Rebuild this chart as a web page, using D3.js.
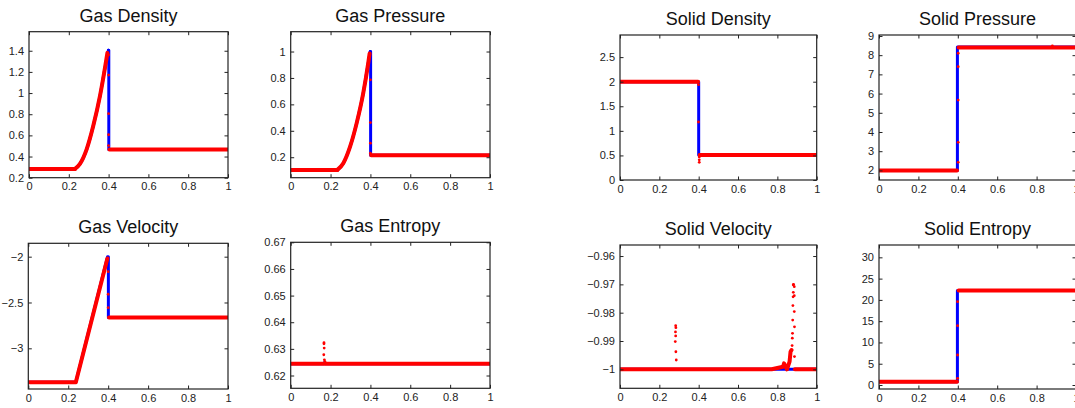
<!DOCTYPE html>
<html>
<head>
<meta charset="utf-8">
<title>Gas / Solid Riemann problem</title>
<style>
  body { margin: 0; background: #fff; }
  text { font-family: "Liberation Sans", Arial, sans-serif; }
  .tick text { font-size: 11px; fill: #222; }
  .title { font-size: 18px; fill: #111; text-anchor: middle; }
</style>
</head>
<body>
<svg width="1075" height="408"></svg>
<script src="https://cdn.jsdelivr.net/npm/d3@7"></script>
<script>
// ---- data ----
const xTicks = [0, 0.2, 0.4, 0.6, 0.8, 1];

// gas density (the compression wave part is drawn smooth)
const gasDensityExactRise = [[0.231, 0.283], [0.256, 0.33], [0.29, 0.47], [0.323, 0.69], [0.357, 0.975], [0.382, 1.24], [0.399, 1.405]];
const gasDensityExact = [[0, 0.283], [0.231, 0.283], null, [0.399, 1.405], [0.401, 1.405], [0.401, 0.466], [1, 0.466]];
const gasDensityNumRise = [[0.231, 0.283], [0.256, 0.33], [0.29, 0.47], [0.323, 0.69], [0.357, 0.975], [0.382, 1.24], [0.394, 1.38]];
const gasDensityNum = [[0, 0.283], [0.231, 0.283], null, [0.404, 0.466], [1, 0.466]];
const gasDensityDots = [[0.4, 1.36], [0.4, 1.17], [0.4, 0.805], [0.4, 0.606], [0.4, 0.504]];
const gasDensityTicks = [0.2, 0.4, 0.6, 0.8, 1, 1.2, 1.4];

// gas pressure
const gasPressureExactRise = [[0.234, 0.104], [0.264, 0.155], [0.298, 0.28], [0.331, 0.458], [0.364, 0.685], [0.389, 0.912], [0.399, 1.0]];
const gasPressureExact = [[0, 0.104], [0.234, 0.104], null, [0.399, 1.0], [0.401, 1.0], [0.401, 0.215], [1, 0.215]];
const gasPressureNumRise = [[0.234, 0.104], [0.264, 0.155], [0.298, 0.28], [0.331, 0.458], [0.364, 0.685], [0.389, 0.912], [0.396, 0.985]];
const gasPressureNum = [[0, 0.104], [0.234, 0.104], null, [0.404, 0.215], [1, 0.215]];
const gasPressureDots = [[0.4, 0.786], [0.4, 0.462], [0.4, 0.306], [0.4, 0.23]];
const gasPressureTicks = [0.2, 0.4, 0.6, 0.8, 1];

// gas velocity
const gasVelocityExact = [[0, -3.37], [0.238, -3.37], [0.397, -2.0], [0.401, -2.0], [0.401, -2.664], [1, -2.664]];
const gasVelocityNum = [[0, -3.37], [0.238, -3.37], [0.396, -2.02], null, [0.404, -2.664], [1, -2.664]];
const gasVelocityDots = [[0.4, -2.164], [0.4, -2.41], [0.4, -2.556]];
const gasVelocityTicks = [-3, -2.5, -2];

// gas entropy
const gasEntropyExact = [[0, 0.6244], [0.165, 0.6244], [0.17, 0.6249], [0.175, 0.6244], [1, 0.6244]];
const gasEntropyNum = [[0, 0.6244], [1, 0.6244]];
const gasEntropyDots = [[0.167, 0.6323], [0.167, 0.6319], [0.168, 0.6303], [0.166, 0.6278], [0.169, 0.6259], [0.172, 0.6252]];
const gasEntropyTicks = [0.62, 0.63, 0.64, 0.65, 0.66, 0.67];

// solid density
const solidDensityExact = [[0, 2.0], [0.4, 2.0], [0.4, 0.51], [1, 0.51]];
const solidDensityNum = [[0, 2.0], [0.397, 2.0], null, [0.405, 0.51], [1, 0.51]];
const solidDensityDots = [[0.399, 1.94], [0.399, 1.18], [0.403, 0.47], [0.403, 0.41], [0.403, 0.36]];
const solidDensityTicks = [0, 0.5, 1, 1.5, 2, 2.5];

// solid pressure
const solidPressureExact = [[0, 2.0], [0.398, 2.0], [0.398, 8.42], [1, 8.42]];
const solidPressureNum = [[0, 2.0], [0.396, 2.0], null, [0.404, 8.4], [1, 8.4]];
const solidPressureDots = [[0.402, 8.1], [0.402, 7.4], [0.402, 5.66], [0.402, 3.46], [0.402, 2.42], [0.88, 8.48]];
const solidPressureTicks = [2, 3, 4, 5, 6, 7, 8, 9];

// solid velocity
const solidVelocityExact = [[0, -1], [1, -1]];
const solidVelocityNum = [[0, -1], [0.771, -1], [0.829, -0.9991], [0.834, -0.9979], [0.849, -1], [0.862, -0.9973], [0.867, -0.9938], [0.872, -0.9932], null, [0.889, -1], [1, -1]];
const solidVelocityDots = [
  [0.283, -0.9846], [0.284, -0.9853], [0.282, -0.9868], [0.283, -0.9882], [0.281, -0.9902], [0.284, -0.9938], [0.286, -0.9967],
  [0.875, -0.9916], [0.876, -0.989], [0.877, -0.9873], [0.878, -0.9826], [0.879, -0.9775], [0.88, -0.9744], [0.881, -0.9728], [0.881, -0.9702], [0.882, -0.9700],
  [0.886, -0.9708], [0.886, -0.974], [0.886, -0.9796], [0.887, -0.985], [0.887, -0.9955]
];
const solidVelocityTicks = [-1, -0.99, -0.98, -0.97, -0.96];

// solid entropy
const solidEntropyExact = [[0, 0.78], [0.398, 0.78], [0.398, 22.2], [1, 22.2]];
const solidEntropyNum = [[0, 0.78], [0.396, 0.78], null, [0.404, 22.2], [1, 22.2]];
const solidEntropyDots = [[0.399, 19.57], [0.399, 13.93], [0.399, 7.05], [0.399, 1.57]];
const solidEntropyTicks = [0, 5, 10, 15, 20, 25, 30];

// ---- layout ----
const panels = [
  { title: "Gas Density",    box: [29, 228, 31.7, 177.7],   yDom: [0.2, 1.58],      yTicks: gasDensityTicks,    exact: gasDensityExact,    num: gasDensityNum,    dots: gasDensityDots, exactRise: gasDensityExactRise, numRise: gasDensityNumRise },
  { title: "Gas Pressure",   box: [290.7, 490, 31.7, 177.7], yDom: [0.045, 1.15],   yTicks: gasPressureTicks,   exact: gasPressureExact,   num: gasPressureNum,   dots: gasPressureDots, exactRise: gasPressureExactRise, numRise: gasPressureNumRise },
  { title: "Solid Density",  box: [620, 816.7, 35, 180],    yDom: [0, 2.95],        yTicks: solidDensityTicks,  exact: solidDensityExact,  num: solidDensityNum,  dots: solidDensityDots },
  { title: "Solid Pressure", box: [879, 1076, 35, 180],     yDom: [1.5, 9.05],      yTicks: solidPressureTicks, exact: solidPressureExact, num: solidPressureNum, dots: solidPressureDots },
  { title: "Gas Velocity",   box: [28.3, 228, 243.3, 389],  yDom: [-3.444, -1.854], yTicks: gasVelocityTicks,   exact: gasVelocityExact,   num: gasVelocityNum,   dots: gasVelocityDots },
  { title: "Gas Entropy",    box: [290.7, 490, 242.3, 388.3], yDom: [0.6152, 0.67], yTicks: gasEntropyTicks,    exact: gasEntropyExact,    num: gasEntropyNum,    dots: gasEntropyDots },
  { title: "Solid Velocity", box: [620, 816.7, 245, 388.3], yDom: [-1.0067, -0.9561], yTicks: solidVelocityTicks, exact: solidVelocityExact, num: solidVelocityNum, dots: solidVelocityDots },
  { title: "Solid Entropy",  box: [879, 1076, 245, 389],    yDom: [-0.94, 32.9],    yTicks: solidEntropyTicks,  exact: solidEntropyExact,  num: solidEntropyNum,  dots: solidEntropyDots }
];

const svg = d3.select("svg");
svg.append("rect").attr("width", 1075).attr("height", 408).attr("fill", "#fff");

const fmt = d3.format("~g");

panels.forEach((p, i) => {
  const [x0, x1, y0, y1] = p.box;
  const x = d3.scaleLinear().domain([0, 1]).range([x0, x1]);
  const y = d3.scaleLinear().domain(p.yDom).range([y1, y0]);
  const g = svg.append("g");

  // clip
  g.append("clipPath").attr("id", "clip" + i)
    .append("rect").attr("x", x0).attr("y", y0).attr("width", x1 - x0).attr("height", y1 - y0);

  const line = d3.line().defined(d => d).x(d => x(d[0])).y(d => y(d[1]));
  const smooth = d3.line().x(d => x(d[0])).y(d => y(d[1])).curve(d3.curveMonotoneX);
  const plot = g.append("g").attr("clip-path", `url(#clip${i})`);

  // exact solution (blue)
  const blue = path => path.attr("fill", "none")
    .attr("stroke", "#0000ff").attr("stroke-width", 3)
    .attr("stroke-linejoin", "round").attr("stroke-linecap", "round");
  blue(plot.append("path").datum(p.exact).attr("d", line));
  if (p.exactRise) blue(plot.append("path").datum(p.exactRise).attr("d", smooth));

  // numerical solution (red)
  const red = path => path.attr("fill", "none")
    .attr("stroke", "#ff0000").attr("stroke-width", 4)
    .attr("stroke-linecap", "round").attr("stroke-linejoin", "round");
  red(plot.append("path").datum(p.num).attr("d", line));
  if (p.numRise) red(plot.append("path").datum(p.numRise).attr("d", smooth));

  plot.selectAll("circle").data(p.dots).join("circle")
    .attr("cx", d => x(d[0])).attr("cy", d => y(d[1]))
    .attr("r", 1.4).attr("fill", "#ff0000");

  // axes, ticks inward on all four sides
  const bottom = g.append("g").attr("transform", `translate(0,${y1})`)
    .call(d3.axisBottom(x).tickValues(xTicks).tickFormat(fmt).tickSizeInner(-3.5).tickSizeOuter(0).tickPadding(5));
  const top = g.append("g").attr("transform", `translate(0,${y0})`)
    .call(d3.axisTop(x).tickValues(xTicks).tickFormat("").tickSizeInner(-3.5).tickSizeOuter(0));
  const left = g.append("g").attr("transform", `translate(${x0},0)`)
    .call(d3.axisLeft(y).tickValues(p.yTicks).tickFormat(fmt).tickSizeInner(-3.5).tickSizeOuter(0).tickPadding(5));
  const right = g.append("g").attr("transform", `translate(${x1},0)`)
    .call(d3.axisRight(y).tickValues(p.yTicks).tickFormat("").tickSizeInner(-3.5).tickSizeOuter(0));
  [bottom, top, left, right].forEach(a => {
    a.select(".domain").remove();
    a.selectAll("line").attr("stroke", "#222");
  });

  // box
  g.append("rect")
    .attr("x", x0).attr("y", y0).attr("width", x1 - x0).attr("height", y1 - y0)
    .attr("fill", "none").attr("stroke", "#222").attr("stroke-width", 1.2);

  g.append("text").attr("class", "title")
    .attr("x", (x0 + x1) / 2).attr("y", y0 - 10)
    .text(p.title);
});
</script>
</body>
</html>
